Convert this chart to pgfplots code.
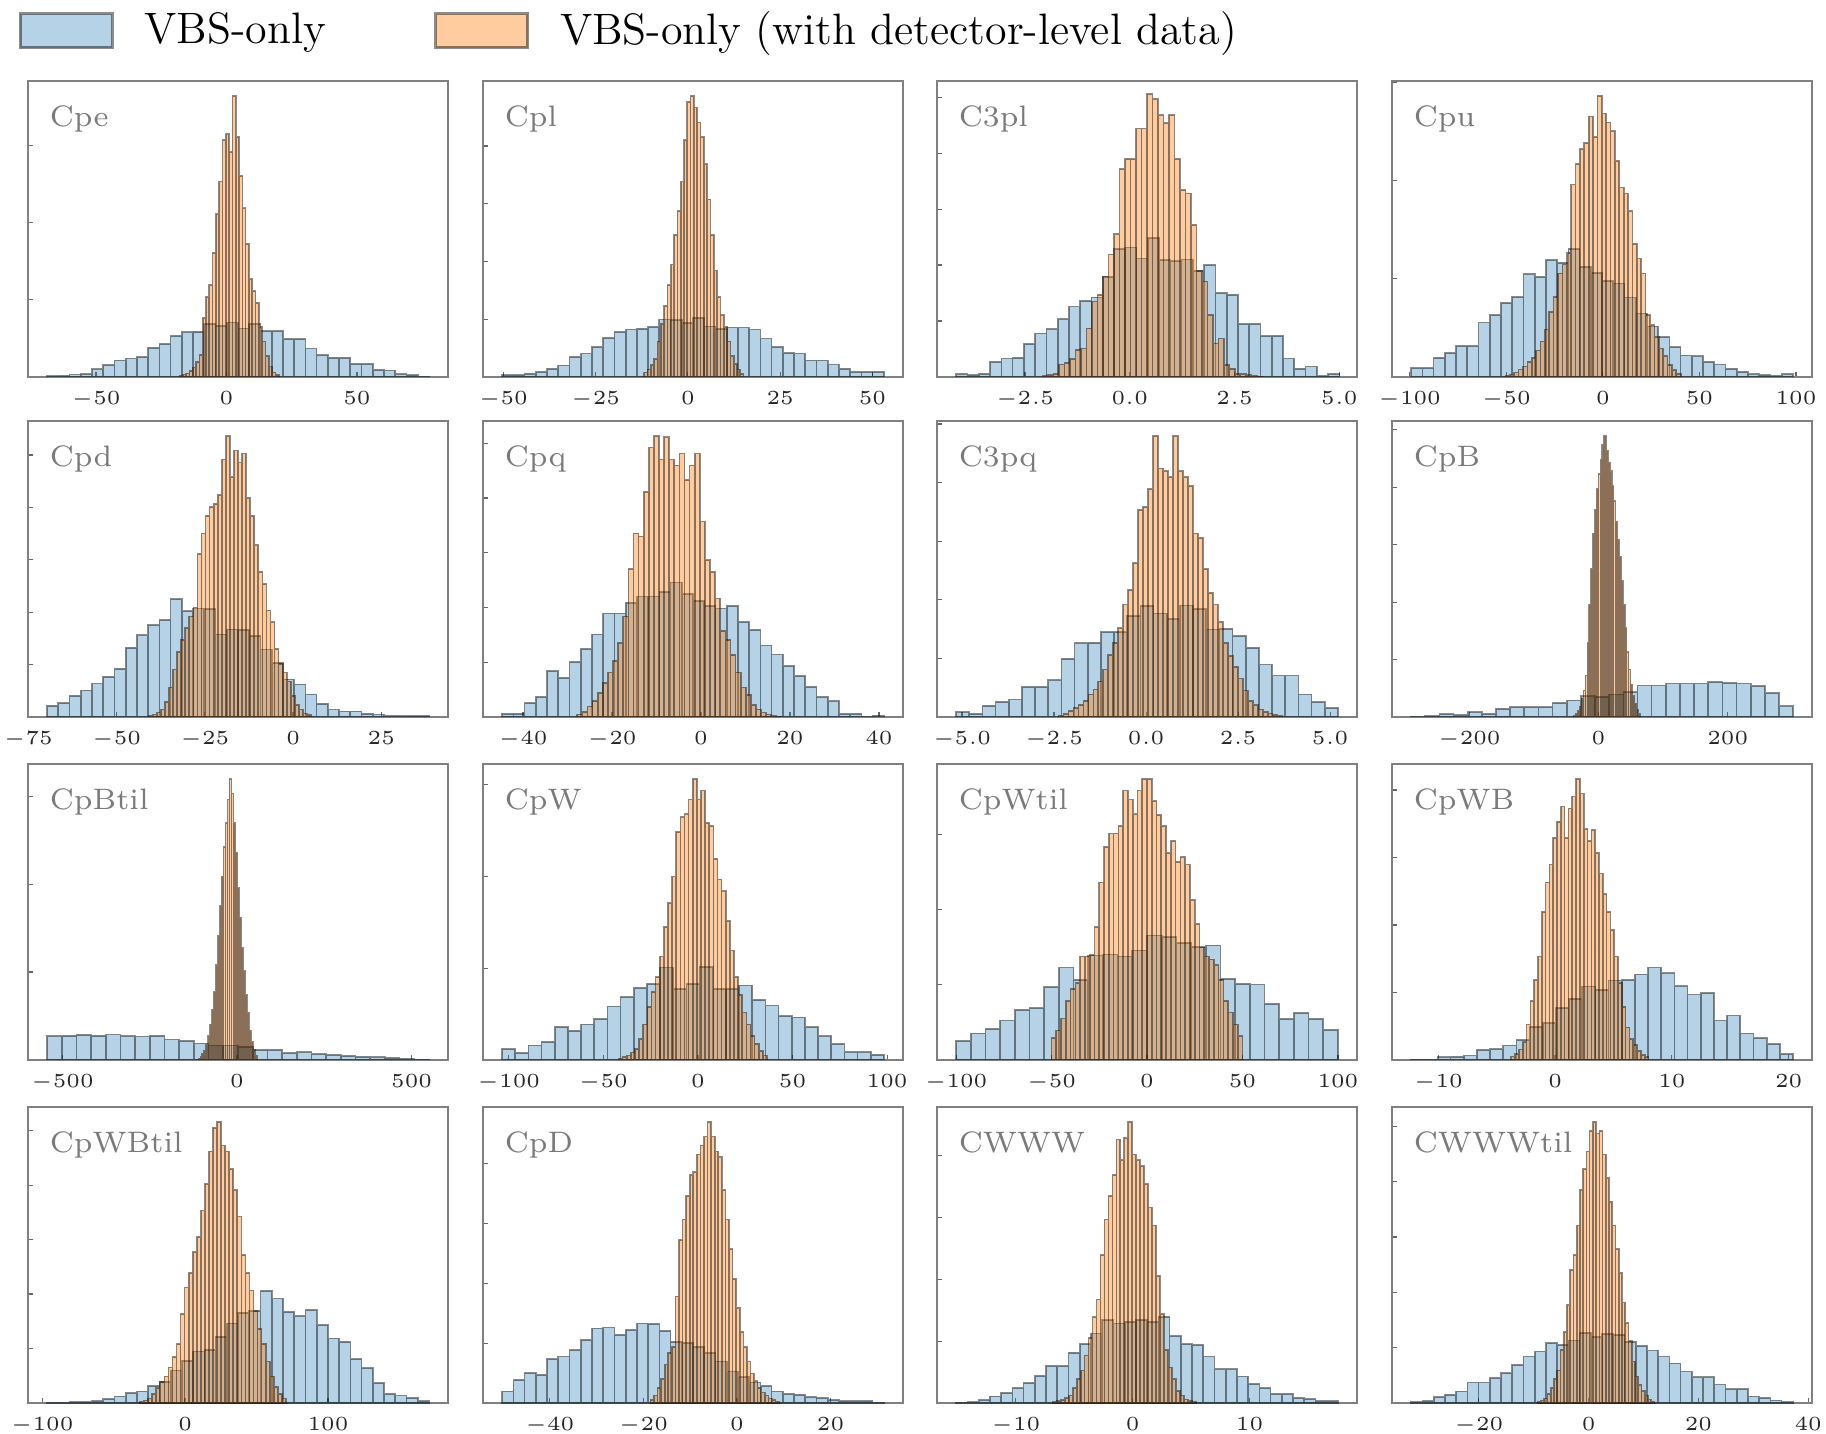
\documentclass[border=0pt]{standalone}
\usepackage{pgfplots}
\pgfplotsset{compat=1.18}
\usepackage{pgfplotstable}
\definecolor{c0}{HTML}{1F77B4}
\definecolor{c1}{HTML}{FF7F0E}
\pgfplotsset{
  hpanel/.style={anchor=south west, scale only axis, width=105pt, height=74pt, ymin=0, ymax=100,
    tick align=inside, tick pos=left,
    axis line style={black!50, line width=0.35pt},
    major tick style={black!60, line width=0.3pt}, major tick length=1.3pt,
    yticklabels={},
    xticklabel style={font=\fontsize{5.5}{6}\selectfont, text=black!85}},
  bluehist/.style={ybar interval, fill=c0, fill opacity=0.33, draw=black, draw opacity=0.45, line width=0.42pt,
    legend image code/.code={\draw[fill=c0, fill opacity=0.33, draw=black, draw opacity=0.45, line width=0.75pt] (0pt,-4.25pt) rectangle (23pt,4.25pt);}},
  orangehist/.style={ybar interval, fill=c1, fill opacity=0.4, draw=black, draw opacity=0.45, line width=0.42pt,
    legend image code/.code={\draw[fill=c1, fill opacity=0.4, draw=black, draw opacity=0.45, line width=0.75pt] (0pt,-4.25pt) rectangle (23pt,4.25pt);}},
  onedec/.style={xticklabel style={/pgf/number format/.cd, fixed, fixed zerofill, precision=1}},
}
\tikzset{plabel/.style={anchor=base west, inner sep=0pt, text=black!52, font=\fontsize{7.4}{8}\selectfont}}
\begin{document}
% ---- data (bar heights, % of panel height); last row closes the final bin
\pgfplotstableread[row sep=\\]{h\\0.3\\0.5\\0.8\\1.0\\2.6\\4.0\\5.6\\6.2\\6.7\\9.9\\11.2\\13.9\\15.1\\15.3\\17.9\\17.3\\18.4\\16.4\\17.8\\15.5\\15.5\\12.8\\12.8\\9.6\\7.4\\6.5\\6.5\\4.4\\4.4\\2.4\\2.2\\0.9\\0.6\\0.2\\0\\}\bCpe
\pgfplotstableread[row sep=\\]{h\\0.3\\0.8\\1.2\\2\\3.2\\5\\7.5\\20\\27\\31\\42\\55\\66\\80\\82\\76\\95\\81\\68\\57\\45\\33\\29\\25\\17\\12\\7\\3.5\\1.5\\0.6\\0\\}\oCpe
\pgfplotstableread[row sep=\\]{h\\0.6\\0.6\\1.1\\1.7\\2.8\\3.9\\6.8\\7.9\\10.1\\13.2\\15.2\\16\\16.3\\16.9\\19.4\\19.2\\18.3\\20\\17.1\\16.2\\16.7\\16.7\\16\\13\\10.1\\8.1\\7.9\\5.6\\5.6\\4.2\\2.8\\1.7\\1.7\\1.7\\0\\}\bCpl
\pgfplotstableread[row sep=\\]{h\\1.5\\2.5\\4\\6\\12\\18\\24\\31\\38\\48\\56\\66\\80\\93\\95\\91\\86\\81\\72\\60\\48\\36\\27\\21\\17\\12\\7\\4.5\\2.5\\1\\0\\}\oCpl
\pgfplotstableread[row sep=\\]{h\\0.9\\0.6\\1.1\\5.1\\6.2\\6.5\\11.2\\14.7\\16.1\\19.5\\23.8\\25.7\\26.9\\33.8\\43.3\\43.7\\40\\47\\39.5\\39.1\\39.7\\35.7\\37.8\\28.3\\27.8\\17.9\\17.9\\13.8\\13.9\\6.2\\2.8\\3.5\\0.3\\1.0\\0\\}\bCtpl
\pgfplotstableread[row sep=\\]{h\\0.3\\0.6\\1.0\\4.2\\4.8\\6.0\\9.1\\9.6\\16.4\\25.5\\27.8\\34\\41.4\\48.2\\70.3\\73.7\\73.7\\83.9\\83.9\\95.6\\93.8\\88.4\\85.8\\88.5\\73.7\\63.2\\62\\51.4\\35.7\\32.3\\21\\11.3\\13\\4\\2.8\\1.1\\0.9\\0.6\\0.3\\0.2\\0\\}\oCtpl
\pgfplotstableread[row sep=\\]{h\\3.0\\3.0\\6.5\\8.1\\10.4\\10.4\\18.4\\20.9\\25\\27\\34.7\\33.8\\39.5\\38.6\\43.2\\37.2\\35.2\\32.5\\31.6\\26.8\\21.4\\17.1\\13.5\\10.1\\7.3\\7.0\\5.1\\4.2\\2.8\\1.7\\0.9\\0.6\\0.5\\0.9\\0\\}\bCpu
\pgfplotstableread[row sep=\\]{h\\0.4\\0.8\\1.5\\2.5\\3.5\\5\\6.5\\9\\12\\16\\22\\27\\35\\38\\42\\65\\72\\77\\79\\88\\81\\95\\89\\86\\83\\73\\64\\62\\56\\45\\40\\35\\21\\17.5\\13.5\\9.6\\7\\4\\2.3\\1.1\\0\\}\oCpu
\pgfplotstableread[row sep=\\]{h\\3.8\\4.7\\7.2\\9.0\\11.3\\13.6\\16.3\\23.4\\27.6\\31.0\\32.8\\39.8\\35.8\\36.6\\36.4\\27.9\\29.6\\29.4\\27.3\\22.8\\18.3\\12.7\\11.0\\7.6\\4.5\\2.5\\1.9\\1.9\\1.1\\0.8\\0.4\\0.3\\0.4\\0.4\\0\\}\bCpd
\pgfplotstableread[row sep=\\]{h\\0.5\\0.8\\1.5\\2.5\\5\\10\\16\\22\\26\\30\\34\\37\\55\\62\\68\\71\\72\\75\\87\\95\\81\\90\\86\\89\\74\\68\\58\\49\\45\\36\\32\\23\\18\\15\\12\\7\\4\\2.5\\1.2\\0.6\\0\\}\oCpd
\pgfplotstableread[row sep=\\]{h\\1.1\\1.1\\4.7\\6.8\\15.5\\13.2\\18.5\\23\\27.9\\35\\35\\38.6\\40.7\\40.7\\42.3\\45.4\\41.5\\39.2\\37.5\\36.6\\37.5\\32.1\\29.4\\24.2\\21.1\\17.2\\13.8\\10.2\\6.8\\5.3\\1.1\\1.1\\0.2\\0.4\\0\\}\bCpq
\pgfplotstableread[row sep=\\]{h\\0.8\\1.8\\3.5\\5.5\\8\\11.5\\15\\19\\25\\34\\50\\62\\61\\76\\91\\95\\87\\94.5\\87\\85\\89\\80\\85\\89\\66\\53\\49\\40\\29\\26\\21\\15\\10\\7.5\\4\\2.5\\1.5\\0.8\\0.4\\0.2\\0\\}\oCpq
\pgfplotstableread[row sep=\\]{h\\1.6\\1.1\\3.8\\5.0\\5.9\\10.2\\10.2\\12.4\\19.7\\24.9\\25.1\\28.7\\28.7\\34.1\\37.5\\35.0\\33.0\\37.7\\36.4\\29.6\\29.8\\27.3\\23.4\\17.7\\14.0\\14.0\\7.6\\5.0\\3.1\\0\\}\bCtpq
\pgfplotstableread[row sep=\\]{h\\0.5\\1.0\\2\\3\\4\\5.5\\7.6\\9.3\\12\\16\\21\\25\\30\\38\\43\\52\\70\\71\\77\\95\\84\\83\\81\\95\\83\\81\\78\\62\\60.5\\50\\42\\38\\32\\25\\20.6\\17\\13\\9\\5.5\\4\\2.5\\1.8\\1.2\\0.7\\0.4\\0\\}\oCtpq
\pgfplotstableread[row sep=\\]{h\\0.2\\0.3\\1.0\\0.6\\1.6\\1.1\\2.8\\3.3\\3.3\\3.3\\4.7\\5.6\\7.0\\6.8\\7.6\\8.4\\10.6\\10.6\\11.3\\11.3\\11.3\\11.8\\11.5\\11.3\\10.4\\8.1\\3.6\\0\\}\bCpB
\pgfplotstableread[row sep=\\]{h\\0.5\\1\\2\\3.5\\6\\9\\14\\25\\38\\50\\62\\70\\77\\82\\87\\92\\95\\90\\86\\83\\78\\73\\66\\60\\54\\46\\38\\30\\22\\16\\11\\7\\4.5\\2.5\\1\\0\\}\oCpB
\pgfplotstableread[row sep=\\]{h\\8.0\\8.2\\8.5\\8.2\\8.6\\8.0\\7.9\\8.2\\6.9\\6.5\\5.6\\4.9\\4.9\\4.5\\3.4\\3.4\\2.3\\2.6\\2.0\\1.7\\1.4\\1.1\\0.9\\0.7\\0.5\\0.2\\0\\}\bCpBt
\pgfplotstableread[row sep=\\]{h\\0.5\\1\\2\\3\\5\\8\\12\\17\\23\\32\\42\\52\\62\\72\\80\\88\\95\\90\\80\\70\\58\\48\\38\\30\\22\\16\\10\\6\\3.5\\1.5\\0\\}\oCpBt
\pgfplotstableread[row sep=\\]{h\\3.7\\2.3\\4.9\\6.0\\11.1\\9.9\\12.0\\13.9\\18.1\\21.2\\24.4\\25.7\\31.2\\24.0\\25.7\\31.4\\24\\24\\25.2\\20.3\\18.4\\14.8\\14.4\\11.1\\8.0\\5.4\\2.6\\2.6\\1.8\\0\\}\bCpW
\pgfplotstableread[row sep=\\]{h\\0.5\\0.9\\1.5\\2.5\\3.7\\7\\12\\18\\23\\28\\35\\45\\53\\62\\77\\82\\83\\88\\95\\88\\91\\80\\79\\68\\61\\57\\47\\37\\28\\22\\16\\12\\8\\5.5\\3\\1.5\\0\\}\oCpW
\pgfplotstableread[row sep=\\]{h\\6.5\\9.0\\10.5\\13.3\\16.9\\17.5\\24.6\\31.2\\27.1\\35.3\\35.6\\35.0\\37.0\\42.1\\41.5\\39.5\\38.1\\38.7\\27.4\\25.7\\25.5\\19.0\\13.9\\15.8\\13.9\\10.2\\0\\}\bCpWt
\pgfplotstableread[row sep=\\]{h\\7.5\\10\\14\\20\\24\\26\\35\\35\\35.5\\45\\60\\72\\76.5\\76.5\\79\\91\\88\\83\\91\\95\\95\\87.5\\82.7\\79\\70\\74\\67\\68.5\\66\\54\\46\\38\\35\\34\\32\\27\\20\\16\\12\\8\\0\\}\oCpWt
\pgfplotstableread[row sep=\\]{h\\0.1\\0.2\\0.9\\1.1\\1.5\\3.4\\3.7\\4.9\\6.8\\11.1\\12.4\\17.6\\20.7\\24.8\\23.7\\26.9\\27.1\\28.9\\31.2\\29.3\\24.9\\22.1\\22.6\\13.3\\15.0\\9.0\\7.4\\5.4\\2.0\\0\\}\bCpWB
\pgfplotstableread[row sep=\\]{h\\1.2\\2\\3.5\\6\\12\\20\\27\\35\\50\\60\\66\\75\\80.5\\85.6\\75\\85\\89\\95\\90\\78\\74\\77.7\\70\\63\\56\\50\\44\\35\\26\\18\\11\\7\\5\\3\\1.8\\1\\0\\}\oCpWB
\pgfplotstableread[row sep=\\]{h\\0.2\\0.2\\0.3\\0.4\\0.6\\1.3\\2.2\\3.4\\3.9\\5.8\\7.2\\11\\14.3\\17.4\\17.9\\22.4\\26.9\\30.5\\31.1\\37.9\\35.3\\30.8\\29.3\\31.4\\26.3\\21.8\\20.7\\14.8\\11.8\\6.7\\3.1\\2.5\\1.7\\0.6\\0\\}\bCpWBt
\pgfplotstableread[row sep=\\]{h\\0.4\\0.8\\1.5\\3\\5\\7\\9\\12\\15.5\\20\\30\\39\\44\\51\\56\\65\\74\\85\\93\\95\\87\\85\\79\\72\\63\\50\\44\\38\\31\\25\\20\\14\\9\\5.5\\3\\1.5\\0\\}\oCpWBt
\pgfplotstableread[row sep=\\]{h\\3.9\\7.8\\10.1\\9.5\\14.8\\15.7\\17.9\\21.3\\25.2\\25.5\\23\\24.6\\26.9\\26.7\\24.4\\20.7\\20.2\\19\\16.8\\14\\10.6\\8.7\\6.9\\5.8\\3.9\\3.1\\2.8\\2.0\\1.7\\1.1\\0.6\\0.6\\0.6\\0.2\\0\\}\bCpD
\pgfplotstableread[row sep=\\]{h\\1\\2.5\\5\\8\\13\\17\\19\\36\\55\\62\\70\\77\\78\\84\\87\\90\\95\\90\\85\\83\\72\\62\\52\\42\\32\\24\\19\\14\\10\\7.5\\5\\3.5\\2.5\\1.5\\1\\0.5\\0\\}\oCpD
\pgfplotstableread[row sep=\\]{h\\0.2\\0.3\\1.1\\2.2\\3.4\\5.0\\6.7\\9.2\\12.5\\12.5\\17.0\\19.9\\23.5\\28\\26.9\\27.4\\28\\27.4\\29.1\\22.6\\19.9\\19.6\\15.7\\11.4\\11.4\\9.0\\6.5\\5.0\\3.1\\3.1\\1.7\\1.3\\0.6\\0.6\\0\\}\bCWWW
\pgfplotstableread[row sep=\\]{h\\0.3\\0.6\\1\\1.6\\2.5\\5\\8\\11\\16\\22\\29\\35\\50\\62\\70\\77\\89\\82\\89.5\\95\\84\\82\\80\\74\\66\\60\\43\\30\\18\\12\\8\\4\\2.5\\1.2\\0.7\\0.3\\0\\}\oCWWW
\pgfplotstableread[row sep=\\]{h\\0.3\\0.6\\2.0\\2.8\\3.9\\6.9\\6.9\\8.4\\10.1\\12.9\\15.7\\17.4\\20.2\\19.6\\21.1\\23.7\\22.2\\23.3\\23\\20.7\\19.3\\17.7\\15.7\\13.4\\10.6\\8.7\\8.7\\6.2\\4.7\\4.7\\2.2\\1.7\\0.9\\0.3\\0\\}\bCWWWt
\pgfplotstableread[row sep=\\]{h\\0.4\\0.8\\1.5\\3\\5\\8\\11\\18\\24\\33\\45\\50\\60\\72\\79\\85\\92\\95\\91\\92\\84\\76\\68\\60\\52\\44\\34\\27\\21\\14\\9\\6\\4\\2.5\\1.2\\0.5\\0\\}\oCWWWt
\begin{tikzpicture}
\useasboundingbox (0,0) rectangle (456.5pt,358.25pt);
% ===== Row 1 =====
\begin{axis}[hpanel, at={(7pt,264pt)}, xmin=-76.1, xmax=84.9, xtick={-50,0,50}, ytick={0,26.1,52.2,78.3},
  legend columns=2, legend cell align=left,
  legend style={at={(-0.0238,1.169)}, anchor=west, draw=none, fill=none, inner sep=0pt,
    font=\fontsize{11}{13}\selectfont, nodes={inner xsep=0pt},
    /tikz/every odd column/.append style={column sep=7.7pt},
    /tikz/every even column/.append style={column sep=27.1pt}}]
\addplot[bluehist] table[x expr={-68.8+4.306*\coordindex}, y=h] {\bCpe};
\addlegendentry{VBS-only}
\addplot[orangehist] table[x expr={-18+1.2667*\coordindex}, y=h] {\oCpe};
\addlegendentry{VBS-only (with detector-level data)}
\node[plabel] at (rel axis cs:0.05,0.845) {Cpe};
\end{axis}
\begin{axis}[hpanel, at={(120.75pt,264pt)}, xmin=-55.5, xmax=58.3, xtick={-50,-25,0,25,50}, ytick={0,19.5,39,58.5,78}]
\addplot[bluehist] table[x expr={-50.3+3.041*\coordindex}, y=h] {\bCpl};
\addplot[orangehist] table[x expr={-11.8+0.8967*\coordindex}, y=h] {\oCpl};
\node[plabel] at (rel axis cs:0.05,0.845) {Cpl};
\end{axis}
\begin{axis}[hpanel, onedec, at={(234.25pt,264pt)}, xmin=-4.6, xmax=5.42, xtick={-2.5,0,2.5,5}, ytick={0,18.9,37.8,56.7,75.6,94.5}]
\addplot[bluehist] table[x expr={-4.14+0.2688*\coordindex}, y=h] {\bCtpl};
\addplot[orangehist] table[x expr={-2.08+0.131*\coordindex}, y=h] {\oCtpl};
\node[plabel] at (rel axis cs:0.05,0.845) {C3pl};
\end{axis}
\begin{axis}[hpanel, at={(348pt,264pt)}, xmin=-109.1, xmax=108.3, xtick={-100,-50,0,50,100}, ytick={0,33.2,66.4,99.6}]
\addplot[bluehist] table[x expr={-99.2+5.812*\coordindex}, y=h] {\bCpu};
\addplot[orangehist] table[x expr={-50.4+2.2675*\coordindex}, y=h] {\oCpu};
\node[plabel] at (rel axis cs:0.05,0.845) {Cpu};
\end{axis}
% ===== Row 2 =====
\begin{axis}[hpanel, at={(7pt,179pt)}, xmin=-75.1, xmax=43.9, xtick={-75,-50,-25,0,25}, ytick={0,17.7,35.4,53.1,70.8,88.5}]
\addplot[bluehist] table[x expr={-69.7+3.182*\coordindex}, y=h] {\bCpd};
\addplot[orangehist] table[x expr={-40.9+1.15*\coordindex}, y=h] {\oCpd};
\node[plabel] at (rel axis cs:0.05,0.845) {Cpd};
\end{axis}
\begin{axis}[hpanel, at={(120.75pt,179pt)}, xmin=-49, xmax=45.4, xtick={-40,-20,0,20,40}, ytick={0,18.5,37,55.5,74,92.5}]
\addplot[bluehist] table[x expr={-44.7+2.524*\coordindex}, y=h] {\bCpq};
\addplot[orangehist] table[x expr={-27.8+1.1475*\coordindex}, y=h] {\oCpq};
\node[plabel] at (rel axis cs:0.05,0.845) {Cpq};
\end{axis}
\begin{axis}[hpanel, onedec, at={(234.25pt,179pt)}, xmin=-5.68, xmax=5.73, xtick={-5,-2.5,0,2.5,5}, ytick={0,19.8,39.6,59.4,79.2,99}]
\addplot[bluehist] table[x expr={-5.16+0.3576*\coordindex}, y=h] {\bCtpq};
\addplot[orangehist] table[x expr={-2.38+0.1353*\coordindex}, y=h] {\oCtpq};
\node[plabel] at (rel axis cs:0.05,0.845) {C3pq};
\end{axis}
\begin{axis}[hpanel, at={(348pt,179pt)}, xmin=-319.7, xmax=330.5, xtick={-200,0,200}, ytick={0,19.4,38.8,58.2,77.6,97}]
\addplot[bluehist] table[x expr={-290.1+21.9*\coordindex}, y=h] {\bCpB};
\addplot[orangehist] table[x expr={-37.6+2.897*\coordindex}, y=h] {\oCpB};
\node[plabel] at (rel axis cs:0.05,0.845) {CpB};
\end{axis}
% ===== Row 3 =====
\begin{axis}[hpanel, at={(7pt,93.25pt)}, xmin=-598.5, xmax=604.2, xtick={-500,0,500}, ytick={0,29.7,59.4,89.1}]
\addplot[bluehist] table[x expr={-543.8+42.05*\coordindex}, y=h] {\bCpBt};
\addplot[orangehist] table[x expr={-110.5+5.563*\coordindex}, y=h] {\oCpBt};
\node[plabel] at (rel axis cs:0.05,0.845) {CpBtil};
\end{axis}
\begin{axis}[hpanel, at={(120.75pt,93.25pt)}, xmin=-113.6, xmax=108.4, xtick={-100,-50,0,50,100}, ytick={0,31,62,93}]
\addplot[bluehist] table[x expr={-103.5+6.959*\coordindex}, y=h] {\bCpW};
\addplot[orangehist] table[x expr={-42+2.181*\coordindex}, y=h] {\oCpW};
\node[plabel] at (rel axis cs:0.05,0.845) {CpW};
\end{axis}
\begin{axis}[hpanel, at={(234.25pt,93.25pt)}, xmin=-110, xmax=110, xtick={-100,-50,0,50,100}, ytick={0,25.4,50.8,76.2}]
\addplot[bluehist] table[x expr={-100+7.692*\coordindex}, y=h] {\bCpWt};
\addplot[orangehist] table[x expr={-50+2.5*\coordindex}, y=h] {\oCpWt};
\node[plabel] at (rel axis cs:0.05,0.845) {CpWtil};
\end{axis}
\begin{axis}[hpanel, at={(348pt,93.25pt)}, xmin=-13.96, xmax=22.0, xtick={-10,0,10,20}, ytick={0,22.8,45.6,68.4,91.2}]
\addplot[bluehist] table[x expr={-12.33+1.1276*\coordindex}, y=h] {\bCpWB};
\addplot[orangehist] table[x expr={-3.75+0.3264*\coordindex}, y=h] {\oCpWB};
\node[plabel] at (rel axis cs:0.05,0.845) {CpWB};
\end{axis}
% ===== Row 4 =====
\begin{axis}[hpanel, at={(7pt,7.5pt)}, xmin=-109.9, xmax=184, xtick={-100,0,100}, ytick={0,18.4,36.8,55.2,73.6,92}]
\addplot[bluehist] table[x expr={-96.5+7.859*\coordindex}, y=h] {\bCpWBt};
\addplot[orangehist] table[x expr={-31.5+2.836*\coordindex}, y=h] {\oCpWBt};
\node[plabel] at (rel axis cs:0.05,0.845) {CpWBtil};
\end{axis}
\begin{axis}[hpanel, at={(120.75pt,7.5pt)}, xmin=-54.3, xmax=35.5, xtick={-40,-20,0,20}, ytick={0,20.2,40.4,60.6,80.8}]
\addplot[bluehist] table[x expr={-50.2+2.4*\coordindex}, y=h] {\bCpD};
\addplot[orangehist] table[x expr={-18.5+0.7639*\coordindex}, y=h] {\oCpD};
\node[plabel] at (rel axis cs:0.05,0.845) {CpD};
\end{axis}
\begin{axis}[hpanel, at={(234.25pt,7.5pt)}, xmin=-16.75, xmax=19.2, xtick={-10,0,10}, ytick={0,20.9,41.8,62.7,83.6}]
\addplot[bluehist] table[x expr={-15.1+0.9609*\coordindex}, y=h] {\bCWWW};
\addplot[orangehist] table[x expr={-6.83+0.3394*\coordindex}, y=h] {\oCWWW};
\node[plabel] at (rel axis cs:0.05,0.845) {CWWW};
\end{axis}
\begin{axis}[hpanel, at={(348pt,7.5pt)}, xmin=-35.8, xmax=40.7, xtick={-20,0,20,40}, ytick={0,18.7,37.4,56.1,74.8,93.5}]
\addplot[bluehist] table[x expr={-32.3+2.044*\coordindex}, y=h] {\bCWWWt};
\addplot[orangehist] table[x expr={-9.25+0.5903*\coordindex}, y=h] {\oCWWWt};
\node[plabel] at (rel axis cs:0.05,0.845) {CWWWtil};
\end{axis}
\end{tikzpicture}
\end{document}
